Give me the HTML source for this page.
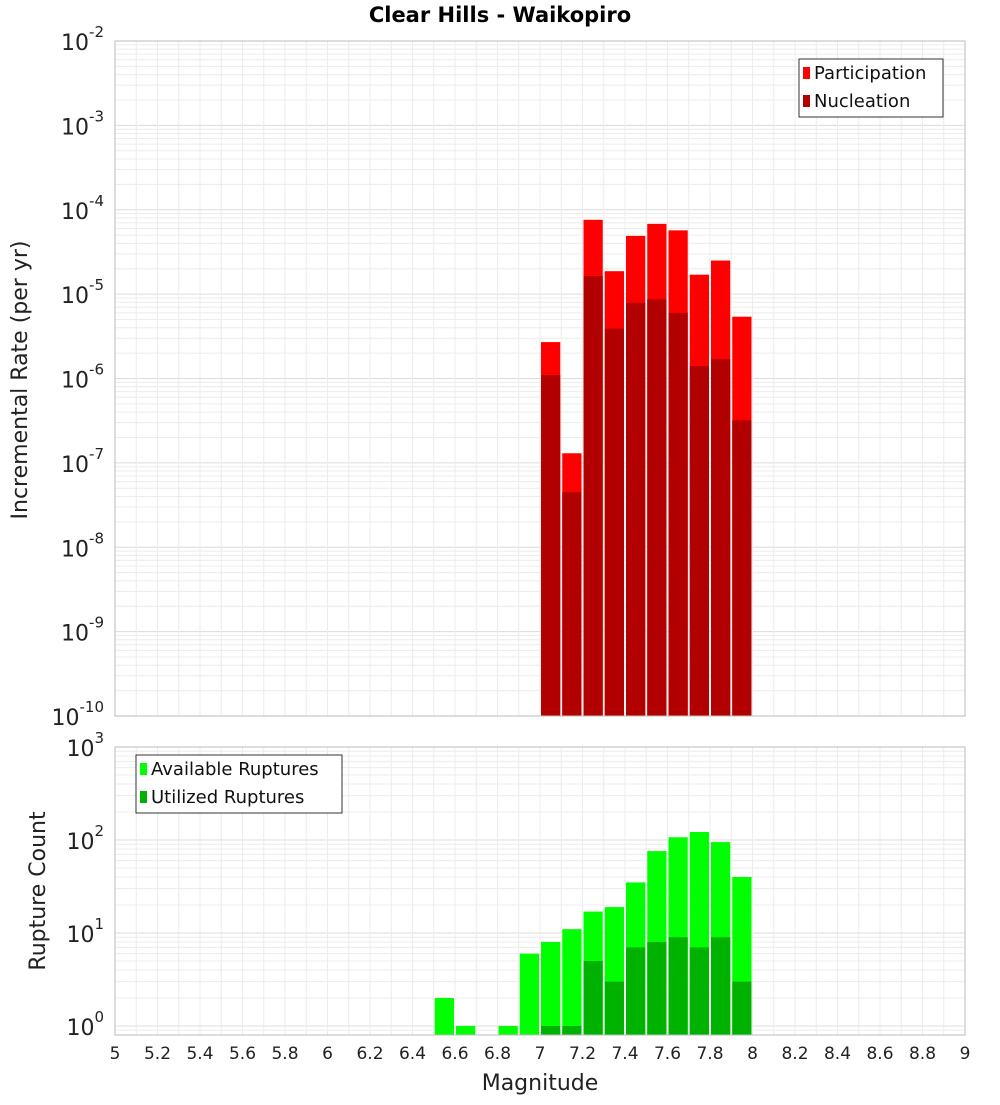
<!DOCTYPE html>
<html><head><meta charset="utf-8"><style>
body{margin:0;background:#fff;font-family:"Liberation Sans","DejaVu Sans",sans-serif}
svg text{font-family:"DejaVu Sans","Liberation Sans",sans-serif}
</style></head><body>
<svg id="c" width="1000" height="1100" xmlns="http://www.w3.org/2000/svg">
<text x="500" y="22" text-anchor="middle" font-size="21" font-weight="bold">Clear Hills - Waikopiro</text>
</svg>
<script>
const binCenters=[6.55,6.65,6.85,6.95,7.05,7.15,7.25,7.35,7.45,7.55,7.65,7.75,7.85,7.95];
const topBins=[7.05,7.15,7.25,7.35,7.45,7.55,7.65,7.75,7.85,7.95];
const participation=[2.7e-6,1.3e-7,7.6e-5,1.87e-5,4.9e-5,6.8e-5,5.7e-5,1.7e-5,2.5e-5,5.4e-6];
const nucleation=[1.1e-6,4.5e-8,1.64e-5,3.9e-6,7.9e-6,8.7e-6,6e-6,1.4e-6,1.7e-6,3.2e-7];
const available=[2,1,1,6,8,11,17,19,35,76,107,122,95,40];
const utilized=[0,0,0,0,1,1,5,3,7,8,9,7,9,3];
const xTicks=[5,5.2,5.4,5.6,5.8,6,6.2,6.4,6.6,6.8,7,7.2,7.4,7.6,7.8,8,8.2,8.4,8.6,8.8,9];
const topExps=[-2,-3,-4,-5,-6,-7,-8,-9,-10];
const botExps=[3,2,1,0];

const NS="http://www.w3.org/2000/svg";
const svg=document.getElementById('c');
function mk(t,a,p){const e=document.createElementNS(NS,t);for(const k in a)e.setAttribute(k,a[k]);(p||svg).appendChild(e);return e;}
const X0=115,X1=965;
const x=m=>X0+(m-5)/4*(X1-X0);
const T0=41,T1=716;
const yTop=v=>T0+(-2-Math.log10(v))*(T1-T0)/8;
const B0=747,B1=1035,BD=93;
const yBot=v=>1026-Math.log10(v)*BD;

function grid(y0,y1,lo,hi,yf){
  const g=mk('g',{});
  
  
  for(let e=lo;e<hi;e++)for(let k=1;k<10;k++){const yy=yf(k*Math.pow(10,e));if(yy<y0-0.1||yy>y1+0.1)continue;
    mk('line',{x1:X0,x2:X1,y1:yy,y2:yy,stroke:k==1?'#dcdcdc':'#ececec','stroke-width':1},g);}
  xTicks.forEach(t=>{for(let s=0;s<2;s++){const xx=x(t+s*0.1);if(xx>X1)continue;mk('line',{x1:xx,x2:xx,y1:y0,y2:y1,stroke:'#ececec','stroke-width':1},g);}});
}
grid(T0,T1,-10,-1,yTop);
grid(B0,B1,-1,3,yBot);

const bw=x(5.1)-x(5)-2;
function bars(centers,vals,yf,base,color,name){
  centers.forEach((c,i)=>{const v=vals[i];if(!v)return;const yy=Math.max(yf(v),0);
    const r=mk('rect',{x:x(c-0.05)+1,y:yy,width:bw,height:base-yy,fill:color});
    
    });
}
bars(topBins,participation,yTop,T1,'#ff0000','participation-bar');
bars(topBins,nucleation,yTop,T1,'#b20000','nucleation-bar');
bars(binCenters,available,yBot,B1,'#00ff00','available-bar');
bars(binCenters,utilized,yBot,B1,'#00b200','utilized-bar');

mk('rect',{x:X0,y:T0,width:X1-X0,height:T1-T0,fill:'none',stroke:'#bbb'});
mk('rect',{x:X0,y:B0,width:X1-X0,height:B1-B0,fill:'none',stroke:'#bbb'});

function ylab(yy,e,name){
  const t=mk('text',{x:104,y:yy+9,'text-anchor':'end','font-size':22,fill:'#222'});
  
  
  t.textContent='10';
  const s=mk('tspan',{dy:-13,'font-size':15},t);s.textContent=String(e);
}
topExps.forEach(e=>ylab(yTop(Math.pow(10,e)),e,'y-tick-label'));
botExps.forEach(e=>ylab(yBot(Math.pow(10,e)),e,'y2-tick-label'));

xTicks.forEach(t=>{const tx=mk('text',{x:x(t),y:1059,'text-anchor':'middle','font-size':17,fill:'#222'});
  
  
  tx.textContent=String(t);});

let at=mk('text',{x:540,y:1090,'text-anchor':'middle','font-size':22,fill:'#222'});
at.textContent='Magnitude';
at=mk('text',{x:0,y:0,'text-anchor':'middle','font-size':22,fill:'#222',transform:'translate(27,380) rotate(-90)'});
at.textContent='Incremental Rate (per yr)';
at=mk('text',{x:0,y:0,'text-anchor':'middle','font-size':22,fill:'#222',transform:'translate(45,891) rotate(-90)'});
at.textContent='Rupture Count';

function legend(lx,ly,w,items,name){
  const g=mk('g',{});
  
  
  mk('rect',{x:lx,y:ly,width:w,height:58,fill:'#fff',stroke:'#333'},g);
  items.forEach((it,i)=>{mk('rect',{x:lx+4,y:ly+8+i*28,width:7,height:12,fill:it[1]},g);
    const t=mk('text',{x:lx+15,y:ly+20+i*28,'font-size':18,fill:'#111'},g);t.textContent=it[0];});
}
legend(799,59,144,[['Participation','#ff0000'],['Nucleation','#b20000']],'legend-top');
legend(136,755,206,[['Available Ruptures','#00ff00'],['Utilized Ruptures','#00b200']],'legend-bottom');
</script>
</body></html>
